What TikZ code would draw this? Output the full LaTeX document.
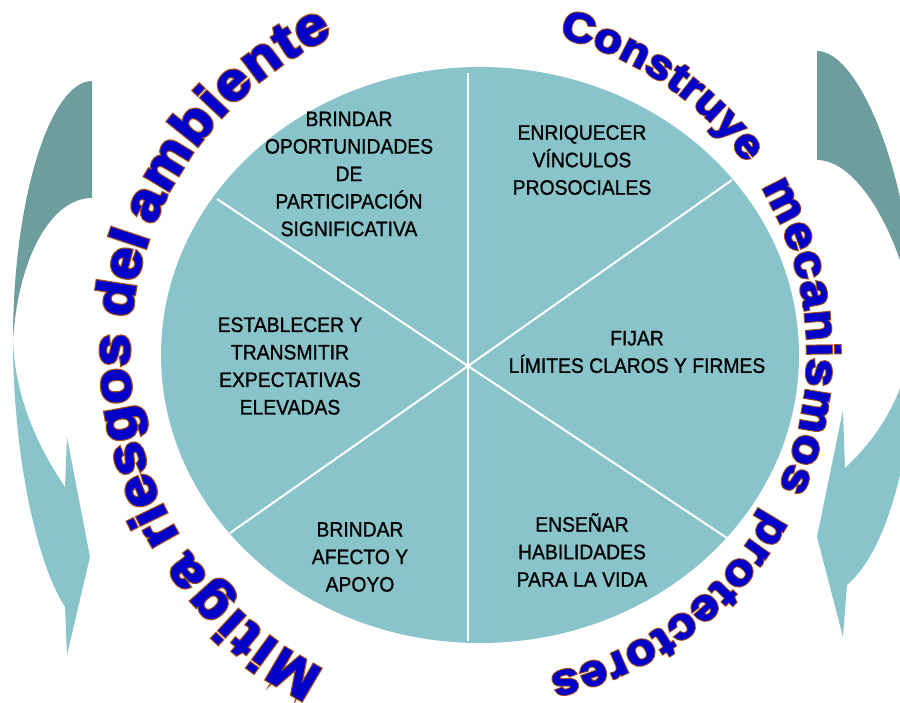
\documentclass[tikz,border=0pt]{standalone}
\usepackage{fontspec}
\usetikzlibrary{shapes.geometric,decorations.text}
\newfontfamily\piefont[FakeStretch=0.92,FakeBold=1]{Liberation Sans}
\newfontfamily\arcfill[FakeStretch=1.1,FakeBold=3]{Liberation Sans Bold}
\newfontfamily\arcedge[FakeStretch=1.1,FakeBold=7.5]{Liberation Sans Bold}
\definecolor{pie}{RGB}{137,196,202}
\definecolor{arrdark}{RGB}{110,157,160}
\definecolor{wblue}{RGB}{0,0,200}
\definecolor{wedge}{RGB}{170,80,25}
\newcommand\arcword[6]{%
  \path[decorate,decoration={text along path,text align=fit to path,text color=wedge,
      text={|\fontsize{#4}{#4}\arcedge|#5}}]
    ([shift={(#1:#3)}]#6) arc[start angle=#1,end angle=#2,radius=#3];
  \path[decorate,decoration={text along path,text align=fit to path,text color=wblue,
      text={|\fontsize{#4}{#4}\arcfill|#5}}]
    ([shift={(#1:#3)}]#6) arc[start angle=#1,end angle=#2,radius=#3];
}
\begin{document}
\begin{tikzpicture}[x=1pt,y=1pt,
  piebox/.style={font=\piefont\fontsize{21}{27.5}\selectfont,align=center,text=black,inner sep=0pt},
  divider/.style={draw=white,line width=2pt},
  arrowdark/.style={fill=arrdark,draw=none},
  arrowlight/.style={fill=pie,draw=none}]
\useasboundingbox (0,0) rectangle (900,-702);
% side arrows
\fill[arrowdark] (92,-81) .. controls (50,-81) and (13,-200) .. (13,-340)
  .. controls (18,-260) and (50,-198) .. (92,-198) -- cycle;
\fill[arrowlight] (13,-340) .. controls (13,-450) and (35,-560) .. (65,-607)
  -- (67,-655) -- (90,-557) -- (67,-437) -- (65,-487)
  .. controls (40,-450) and (15,-400) .. (13,-340) -- cycle;
\begin{scope}
\clip (0,0) rectangle (900,-702);
\fill[arrowdark] (817,-51) .. controls (862,-51) and (915,-190) .. (915,-330)
  .. controls (910,-260) and (865,-160) .. (817,-160) -- cycle;
\fill[arrowlight] (915,-330) .. controls (915,-450) and (888,-550) .. (847,-585)
  -- (843,-637) -- (817,-537) -- (843,-410) -- (845,-468)
  .. controls (875,-440) and (905,-400) .. (915,-330) -- cycle;
\end{scope}
% pie
\node[ellipse,fill=pie,draw=none,minimum width=638pt,minimum height=576pt,inner sep=0pt] (pie) at (480,-355) {};
\coordinate (O) at (468,-366);
\coordinate (vt) at (468,-73);
\coordinate (vb) at (468,-641);
\coordinate (ul) at (217,-199);
\coordinate (lr) at (727,-538);
\coordinate (ur) at (732,-180);
\coordinate (ll) at (230,-533);
\draw[divider] (O) -- (vt);
\draw[divider] (O) -- (vb);
\draw[divider] (O) -- (ul);
\draw[divider] (O) -- (lr);
\draw[divider] (O) -- (ur);
\draw[divider] (O) -- (ll);
\node[piebox] (t1) at (349,-174) {BRINDAR\\OPORTUNIDADES\\DE\\PARTICIPACIÓN\\SIGNIFICATIVA};
\node[piebox] (t2) at (582,-160) {ENRIQUECER\\VÍNCULOS\\PROSOCIALES};
\node[piebox] (t3) at (637,-352) {FIJAR\\LÍMITES CLAROS Y FIRMES};
\node[piebox] (t4) at (290,-366) {ESTABLECER Y\\TRANSMITIR\\EXPECTATIVAS\\ELEVADAS};
\node[piebox] (t5) at (360,-557) {BRINDAR\\AFECTO Y\\APOYO};
\node[piebox] (t6) at (582,-550) {ENSEÑAR\\HABILIDADES\\PARA LA VIDA};
% curved texts
\coordinate (CL) at (481,-355);
\coordinate (CR) at (480.5,-354.3);
\arcword{76.1}{35.8}{327}{41}{Construye}{CR}
\arcword{30.8}{-24.1}{327}{45}{mecanismos}{CR}
\arcword{-28.6}{-77.8}{327}{44}{protectores}{CR}
\arcword{-116.5}{-146.2}{352}{53}{Mitiga}{CL}
\arcword{-149}{-183.4}{352}{53}{riesgos}{CL}
\arcword{-186}{-199.5}{352}{53}{del}{CL}
\arcword{-201.6}{-245.1}{352}{53}{ambiente}{CL}
\end{tikzpicture}
\end{document}
